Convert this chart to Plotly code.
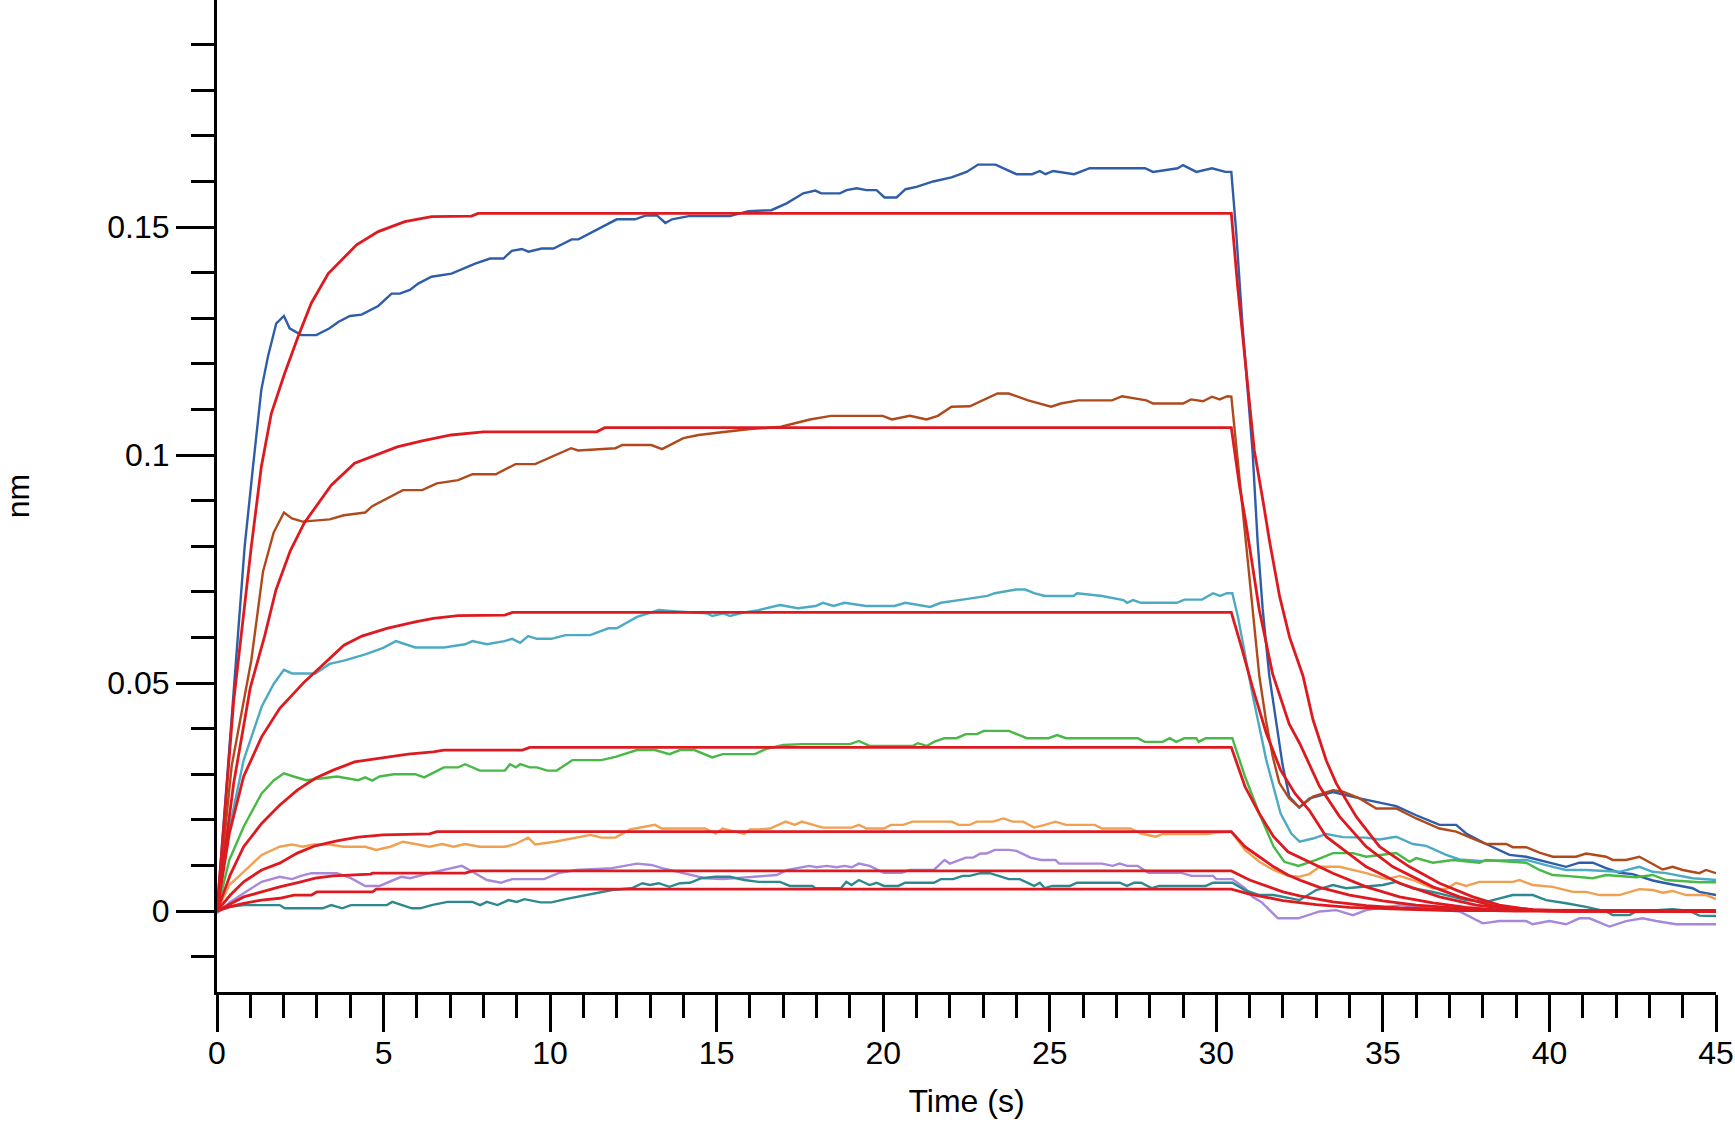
import plotly.graph_objects as go

# ---- measured sensorgrams: (time s, response nm) ----
blue = [(0,0),(0.4,0.038),(0.83,0.0799),(1.08,0.0974),(1.33,0.1143),(1.53,0.1216),(1.78,0.1289),(2.01,0.1305),(2.18,0.1278),(2.53,0.1263),(2.98,0.1263),(3.38,0.1278),(3.64,0.1292),(3.99,0.1305),(4.34,0.1308),(4.84,0.1327),(5.24,0.1354),(5.49,0.1354),(5.79,0.1362),(6.04,0.1376),(6.44,0.1391),(7.04,0.1398),(7.75,0.142),(8.2,0.1431),(8.6,0.1431),(8.85,0.1448),(9.15,0.1452),(9.35,0.1446),(9.75,0.1453),(10.1,0.1453),(10.65,0.1473),(10.85,0.1473),(12.0,0.1517),(12.55,0.1517),(12.86,0.1525),(13.2,0.1526),(13.46,0.1509),(13.66,0.1517),(14.16,0.1524),(14.46,0.1524),(15.4,0.1524),(15.95,0.1535),(16.64,0.1537),(17.1,0.1552),(17.6,0.1574),(17.96,0.158),(18.14,0.1574),(18.7,0.1574),(18.9,0.1581),(19.2,0.1585),(19.5,0.1581),(19.8,0.1581),(20.04,0.1565),(20.4,0.1565),(20.67,0.1583),(21.0,0.1588),(21.5,0.160),(22.05,0.1609),(22.5,0.1621),(22.85,0.1637),(23.37,0.1637),(24.0,0.1616),(24.47,0.1616),(24.7,0.1623),(24.87,0.1616),(25.1,0.1623),(25.73,0.1616),(26.2,0.1629),(27.86,0.1629),(28.1,0.1621),(28.84,0.1629),(29.0,0.1636),(29.4,0.1621),(29.87,0.1629),(30.27,0.1621),(30.45,0.1621),(30.59,0.1495),(30.79,0.128),(30.99,0.110),(31.09,0.1005),(31.24,0.081),(31.39,0.0663),(31.59,0.0516),(31.79,0.0418),(31.99,0.032),(32.19,0.0251),(32.49,0.0227),(32.8,0.0247),(33.5,0.0261),(34.3,0.0247),(34.8,0.024),(35.4,0.023),(36.0,0.021),(36.7,0.0189),(37.2,0.0189),(37.5,0.017),(38.1,0.0147),(38.8,0.0123),(39.3,0.0119),(39.7,0.0112),(40.1,0.0104),(40.5,0.0097),(40.9,0.0106),(41.3,0.0106),(41.7,0.0094),(42.1,0.0084),(42.5,0.0081),(43.1,0.0067),(43.5,0.0061),(44.3,0.005),(44.5,0.0042),(45.0,0.0035)]

brown = [(0,0),(0.44,0.0318),(1.03,0.055),(1.38,0.0744),(1.7,0.083),(2.01,0.0874),(2.25,0.0861),(2.57,0.0854),(3.38,0.0859),(3.81,0.0868),(4.45,0.0874),(4.66,0.0888),(5.58,0.0923),(6.16,0.0923),(6.6,0.0938),(7.24,0.0945),(7.67,0.0958),(8.37,0.0958),(8.96,0.098),(9.55,0.098),(10.63,0.1015),(10.84,0.101),(11.96,0.1015),(12.17,0.1022),(13.04,0.1022),(13.36,0.1013),(14.0,0.1037),(14.46,0.1044),(15.15,0.105),(16.0,0.1057),(16.93,0.1062),(17.4,0.1071),(17.8,0.1078),(18.43,0.1086),(19.98,0.1086),(20.26,0.1078),(20.8,0.1086),(21.3,0.1078),(21.64,0.1086),(22.05,0.1106),(22.6,0.1107),(23.43,0.1135),(23.77,0.1135),(24.35,0.112),(25.04,0.1106),(25.33,0.1113),(25.85,0.112),(26.87,0.112),(27.17,0.1129),(27.9,0.112),(28.1,0.1113),(29.0,0.1113),(29.24,0.1122),(29.6,0.1118),(29.87,0.1128),(30.1,0.1122),(30.33,0.1129),(30.45,0.1128),(30.59,0.1025),(30.74,0.0908),(30.89,0.081),(31.09,0.0663),(31.29,0.0516),(31.49,0.0418),(31.69,0.034),(31.89,0.0281),(32.19,0.0247),(32.49,0.0227),(32.9,0.0251),(33.5,0.0265),(33.8,0.0262),(34.3,0.0247),(34.8,0.0225),(35.4,0.0225),(36.0,0.0203),(36.7,0.0181),(37.2,0.0174),(37.7,0.0159),(38.1,0.0147),(38.7,0.0147),(38.9,0.014),(39.3,0.014),(39.7,0.0128),(40.1,0.0119),(40.8,0.0119),(41.1,0.0126),(41.7,0.0119),(41.9,0.0112),(42.3,0.0112),(42.7,0.0119),(43.4,0.0091),(43.7,0.0097),(44.0,0.009),(44.5,0.0083),(44.7,0.009),(45.0,0.0083)]

cyan = [(0,0),(0.37,0.018),(0.8,0.0331),(1.34,0.0448),(1.71,0.0499),(2.01,0.0529),(2.25,0.0521),(2.95,0.0521),(3.38,0.0542),(3.81,0.0549),(4.45,0.0563),(4.99,0.0577),(5.37,0.0592),(5.95,0.0578),(6.81,0.0578),(7.45,0.0585),(7.67,0.0592),(8.1,0.0585),(8.63,0.0592),(8.86,0.0597),(9.1,0.0588),(9.34,0.0603),(9.6,0.0597),(10.04,0.0597),(10.46,0.0605),(11.2,0.0605),(11.75,0.062),(12.0,0.062),(12.61,0.0645),(13.26,0.066),(13.8,0.0657),(14.7,0.0653),(14.87,0.0647),(15.2,0.0653),(15.4,0.0647),(15.83,0.0655),(16.26,0.066),(16.9,0.0671),(17.44,0.0664),(17.97,0.0669),(18.19,0.0676),(18.51,0.0669),(18.84,0.0676),(19.48,0.0669),(20.34,0.0669),(20.66,0.0676),(21.41,0.0667),(21.73,0.0676),(22.38,0.0683),(23.13,0.0691),(23.35,0.0697),(23.99,0.0705),(24.26,0.0705),(24.53,0.0697),(24.85,0.0691),(25.71,0.0691),(25.82,0.0697),(26.57,0.0691),(27.21,0.0682),(27.32,0.0676),(27.5,0.0682),(27.74,0.0676),(28.82,0.0676),(29.04,0.0683),(29.57,0.0683),(29.9,0.0697),(30.11,0.0691),(30.32,0.0697),(30.48,0.0697),(30.65,0.0645),(31.08,0.0477),(31.5,0.0331),(31.93,0.0214),(32.25,0.017),(32.5,0.0152),(32.9,0.0159),(33.3,0.0169),(33.8,0.0162),(34.5,0.0161),(34.9,0.0157),(35.4,0.0163),(35.9,0.0147),(36.3,0.0143),(36.9,0.0123),(37.3,0.0113),(37.9,0.011),(39.3,0.0112),(39.7,0.0104),(40.1,0.0097),(40.5,0.009),(41.1,0.009),(42.1,0.0086),(42.7,0.0097),(43.1,0.0086),(43.5,0.0083),(44.3,0.0072),(45.0,0.0068)]

green = [(0,0),(0.37,0.0112),(0.8,0.0185),(1.34,0.0258),(1.71,0.0287),(2.01,0.0302),(2.3,0.0295),(2.68,0.0287),(3.6,0.0295),(4.24,0.0287),(4.45,0.0293),(4.66,0.0286),(4.88,0.0295),(5.31,0.03),(5.95,0.03),(6.22,0.0293),(6.81,0.0315),(7.24,0.0315),(7.45,0.0322),(7.89,0.0308),(8.64,0.0308),(8.8,0.0322),(8.97,0.0315),(9.1,0.0322),(9.39,0.0315),(9.6,0.0315),(9.92,0.0308),(10.2,0.0308),(10.67,0.0331),(11.54,0.0331),(11.96,0.0338),(12.61,0.0353),(13.15,0.0353),(13.58,0.0344),(13.9,0.0353),(14.33,0.0353),(14.87,0.0337),(15.18,0.0344),(16.15,0.0344),(16.47,0.0355),(17.0,0.0364),(17.55,0.0366),(19.0,0.0366),(19.27,0.0373),(19.59,0.0362),(20.88,0.0362),(21.04,0.0368),(21.31,0.0362),(21.52,0.0371),(21.84,0.0379),(22.2,0.0379),(22.48,0.0388),(22.81,0.0388),(23.02,0.0395),(23.77,0.0395),(24.31,0.0379),(24.96,0.0379),(25.22,0.0386),(25.49,0.0379),(27.64,0.0379),(27.85,0.0371),(28.39,0.0371),(28.6,0.0379),(28.8,0.0371),(29.04,0.0379),(29.4,0.0379),(29.47,0.0371),(29.68,0.0379),(30.48,0.0379),(30.86,0.0295),(31.29,0.0214),(31.72,0.0141),(32.04,0.0108),(32.47,0.0099),(33.0,0.0112),(33.5,0.0127),(34.1,0.0127),(34.5,0.0119),(35.4,0.0127),(35.8,0.0108),(36.0,0.0116),(36.5,0.0106),(37.1,0.0112),(37.9,0.0106),(38.1,0.0112),(39.3,0.0106),(39.7,0.009),(40.1,0.0079),(40.5,0.0077),(41.3,0.0072),(41.7,0.0079),(42.6,0.0074),(43.1,0.0079),(43.5,0.0068),(44.5,0.0063),(45.0,0.0063)]

orange = [(0,0),(0.37,0.0057),(0.8,0.0086),(1.34,0.0123),(1.88,0.0141),(2.25,0.0146),(2.57,0.0141),(2.9,0.0146),(3.38,0.0146),(3.81,0.0141),(4.45,0.0141),(4.78,0.0134),(5.2,0.0141),(5.58,0.0152),(5.95,0.0147),(6.38,0.0141),(6.76,0.0147),(7.1,0.0141),(7.45,0.0147),(7.89,0.0141),(8.64,0.0141),(8.96,0.0147),(9.34,0.0161),(9.55,0.0146),(10.14,0.0152),(10.79,0.0161),(11.21,0.0167),(11.54,0.0161),(11.96,0.0161),(12.4,0.0179),(13.15,0.0189),(13.35,0.0181),(13.69,0.0181),(14.65,0.0181),(14.97,0.017),(15.18,0.0181),(15.83,0.0169),(16.0,0.0179),(16.26,0.0179),(16.6,0.0181),(17.07,0.0196),(17.35,0.0189),(17.55,0.0196),(18.19,0.0183),(19.05,0.0183),(19.27,0.0189),(19.5,0.0181),(20.02,0.0181),(20.23,0.0189),(20.6,0.0189),(20.88,0.0196),(22.06,0.0196),(22.27,0.0189),(22.6,0.0189),(22.81,0.0196),(23.3,0.0196),(23.61,0.0203),(23.88,0.0196),(24.2,0.0196),(24.53,0.0183),(24.85,0.0189),(25.17,0.0196),(25.49,0.0189),(26.35,0.0189),(26.57,0.0181),(27.42,0.0181),(27.74,0.017),(28.18,0.0163),(28.39,0.0169),(29.73,0.0169),(30.0,0.0172),(30.45,0.0174),(30.86,0.0134),(31.29,0.0108),(31.72,0.009),(32.15,0.0077),(32.47,0.0075),(32.79,0.0081),(33.1,0.0097),(33.7,0.0097),(34.5,0.0083),(35.1,0.007),(35.5,0.0077),(35.9,0.0068),(36.5,0.005),(36.9,0.0048),(37.2,0.0062),(37.5,0.0055),(37.9,0.0064),(38.9,0.0064),(39.1,0.0068),(39.5,0.0057),(40.1,0.0053),(40.7,0.0042),(41.1,0.0042),(41.5,0.0035),(42.1,0.0035),(42.7,0.0048),(43.1,0.0046),(43.4,0.004),(43.7,0.0044),(44.1,0.0035),(44.7,0.0035),(45.0,0.0026)]

purple = [(0,-0.0005),(0.4,0.002),(0.8,0.0039),(1.34,0.0064),(1.88,0.0075),(2.25,0.007),(2.52,0.0077),(2.84,0.0083),(3.6,0.0083),(4.02,0.0072),(4.45,0.0055),(4.88,0.0055),(5.53,0.0075),(5.8,0.0072),(6.38,0.0083),(6.81,0.009),(7.35,0.0099),(7.67,0.0086),(8.1,0.0068),(8.53,0.0062),(8.86,0.007),(9.82,0.007),(10.25,0.0083),(10.79,0.009),(11.86,0.0094),(12.61,0.0104),(13.04,0.0101),(13.36,0.0094),(14.65,0.0072),(15.18,0.007),(16.15,0.0075),(16.8,0.0079),(17.12,0.009),(17.78,0.0099),(18.0,0.0096),(18.3,0.0099),(18.6,0.0096),(18.84,0.0099),(19.05,0.0096),(19.27,0.0104),(19.59,0.0099),(20.02,0.0084),(20.56,0.0084),(20.8,0.009),(21.52,0.009),(21.84,0.0112),(22.0,0.0104),(22.48,0.0117),(22.7,0.0117),(22.92,0.0126),(23.1,0.0126),(23.35,0.0134),(23.77,0.0134),(24.0,0.0132),(24.42,0.0117),(24.74,0.0112),(25.17,0.0112),(25.28,0.0104),(26.57,0.0104),(26.89,0.0099),(27.1,0.0104),(27.32,0.0099),(27.64,0.0099),(27.96,0.0084),(28.93,0.0084),(29.25,0.0077),(29.9,0.0077),(30.0,0.007),(30.48,0.007),(30.86,0.005),(31.08,0.0031),(31.35,0.002),(31.85,-0.0016),(32.46,-0.0016),(33.1,-0.0001),(33.6,0.0002),(34.1,-0.0009),(34.5,0.0002),(35.5,0.0013),(37.3,-0.0001),(38.0,-0.0027),(38.5,-0.0022),(39.3,-0.0022),(39.5,-0.0029),(40.0,-0.0022),(40.5,-0.0029),(40.9,-0.0016),(41.2,-0.0016),(41.8,-0.0034),(42.3,-0.0022),(42.8,-0.0016),(43.2,-0.0022),(43.8,-0.0029),(45.0,-0.0029)]

teal = [(0,0),(0.37,0.0009),(0.8,0.0013),(1.88,0.0013),(2.04,0.0006),(3.17,0.0006),(3.43,0.0013),(3.76,0.0006),(4.02,0.0013),(5.1,0.0013),(5.26,0.002),(5.85,0.0006),(6.1,0.0006),(6.44,0.0013),(6.92,0.002),(7.67,0.002),(7.9,0.0013),(8.1,0.002),(8.42,0.0013),(8.75,0.0024),(9.0,0.002),(9.23,0.0026),(9.71,0.0019),(10.04,0.0019),(10.46,0.0026),(11.11,0.0035),(11.54,0.0042),(11.86,0.0046),(12.45,0.005),(12.77,0.0061),(13.0,0.0057),(13.26,0.0061),(13.58,0.0053),(13.9,0.0061),(14.2,0.0062),(14.54,0.0072),(14.97,0.0075),(15.4,0.0075),(15.83,0.0068),(16.26,0.0064),(16.9,0.0064),(17.2,0.0055),(17.87,0.0055),(17.97,0.005),(18.73,0.005),(18.89,0.0064),(19.05,0.0057),(19.27,0.0068),(19.59,0.0057),(19.8,0.0062),(20.02,0.0055),(20.45,0.0055),(20.66,0.0062),(21.52,0.0062),(21.73,0.007),(22.1,0.007),(22.38,0.0077),(22.6,0.0077),(22.92,0.0083),(23.2,0.0083),(23.56,0.0075),(23.77,0.007),(24.1,0.007),(24.53,0.0055),(24.7,0.0062),(24.85,0.005),(25.07,0.0055),(25.6,0.0055),(25.82,0.0062),(27.1,0.0062),(27.32,0.0055),(27.53,0.0062),(27.74,0.0062),(28.07,0.005),(28.28,0.0055),(29.68,0.0055),(29.9,0.0062),(30.48,0.0062),(30.86,0.0046),(31.29,0.0035),(31.72,0.0035),(32.15,0.0028),(32.5,0.0024),(33.0,0.0046),(33.5,0.0057),(33.9,0.005),(35.0,0.0057),(35.4,0.0064),(35.9,0.005),(36.5,0.0042),(37.5,0.0024),(38.1,0.002),(38.9,0.0035),(39.5,0.0035),(39.9,0.0024),(40.5,0.0017),(41.1,0.0009),(41.7,-0.0001),(41.9,-0.0009),(42.4,-0.0009),(42.6,-0.0001),(43.7,0.0004),(44.2,0.0),(44.5,-0.001),(45.0,-0.0011)]

# ---- fitted curves (red) ----
blue_fit = [(0,0),(0.5,0.046),(1.03,0.0799),(1.33,0.0974),(1.63,0.1091),(2.03,0.1179),(2.43,0.1259),(2.83,0.1333),(3.34,0.1398),(3.84,0.1435),(4.19,0.1461),(4.84,0.149),(5.64,0.1512),(6.44,0.1523),(7.64,0.1524),(7.84,0.153),(30.45,0.153),(30.64,0.137),(30.89,0.119),(31.14,0.101),(31.4,0.090),(31.6,0.081),(31.9,0.069),(32.2,0.060),(32.6,0.0516),(32.9,0.042),(33.3,0.033),(33.6,0.028),(34.2,0.0207),(34.9,0.0141),(35.8,0.0097),(36.7,0.0061),(37.7,0.0031),(38.5,0.0013),(39.5,0.0002),(40.5,0),(45,0)]
brown_fit = [(0,0),(0.5,0.028),(1.0,0.049),(1.43,0.0603),(1.77,0.0704),(2.2,0.079),(2.62,0.0851),(3.0,0.089),(3.43,0.0934),(4.13,0.0982),(4.78,0.100),(5.41,0.1018),(6.16,0.1031),(7.03,0.1044),(8.0,0.1051),(11.4,0.1051),(11.64,0.106),(30.45,0.106),(30.7,0.093),(30.89,0.085),(31.29,0.066),(31.69,0.052),(32.19,0.041),(32.5,0.0368),(33.1,0.0273),(33.7,0.0207),(34.5,0.0141),(35.3,0.0097),(36.5,0.0053),(37.3,0.0031),(38.3,0.0012),(39.5,0.0003),(40.5,0),(45,0)]
cyan_fit = [(0,0),(0.37,0.017),(0.8,0.0295),(1.34,0.0382),(1.88,0.0444),(2.25,0.0474),(2.63,0.0503),(3.06,0.0532),(3.43,0.0558),(3.81,0.0583),(4.35,0.0603),(5.1,0.062),(5.95,0.0634),(6.5,0.0642),(7.24,0.0648),(8.64,0.0649),(8.87,0.0655),(30.45,0.0655),(30.75,0.058),(31.08,0.0492),(31.5,0.039),(31.93,0.0309),(32.36,0.0258),(32.79,0.0221),(33.3,0.0163),(34.5,0.0097),(35.5,0.0061),(36.7,0.0031),(37.8,0.0013),(39.0,0.0003),(40.0,0),(45,0)]
green_fit = [(0,0),(0.4,0.008),(0.8,0.0141),(1.34,0.0192),(1.88,0.0232),(2.41,0.0265),(2.95,0.0291),(3.49,0.0309),(4.13,0.0327),(4.67,0.0333),(5.2,0.0338),(5.74,0.0344),(6.49,0.0349),(6.81,0.0353),(9.17,0.0353),(9.39,0.0359),(30.45,0.0359),(30.86,0.0273),(31.29,0.0214),(31.72,0.0163),(32.15,0.013),(32.5,0.0118),(33.5,0.0083),(34.5,0.0053),(35.5,0.0031),(36.5,0.0018),(37.5,0.0008),(38.5,0.0002),(45,0)]
orange_fit = [(0,0),(0.4,0.0035),(0.8,0.0064),(1.34,0.009),(1.88,0.0105),(2.41,0.0127),(2.95,0.0143),(3.6,0.0154),(4.24,0.0162),(4.99,0.0167),(6.38,0.0169),(6.6,0.0174),(30.45,0.0174),(30.86,0.0141),(31.29,0.0119),(31.72,0.0097),(32.15,0.0079),(32.57,0.0066),(33.1,0.0052),(34.0,0.0035),(35.0,0.0022),(36.0,0.0013),(37.5,0.0005),(39.0,0.0001),(45,0)]
purple_fit = [(0,0),(0.8,0.0031),(1.34,0.0042),(1.88,0.0053),(2.52,0.0064),(2.95,0.0072),(3.49,0.0077),(4.61,0.0081),(4.67,0.0083),(7.45,0.0083),(7.67,0.0088),(30.45,0.0088),(31.0,0.0068),(31.5,0.0055),(32.0,0.0042),(32.5,0.0033),(33.5,0.002),(34.5,0.0012),(35.5,0.0007),(37.0,0.0003),(39.0,0),(45,0)]
teal_fit = [(0,0),(0.37,0.0009),(0.8,0.0017),(1.34,0.0024),(1.88,0.0028),(2.31,0.0035),(2.84,0.0035),(3.0,0.0042),(4.67,0.0042),(4.78,0.0048),(30.45,0.0048),(31.0,0.0037),(31.5,0.003),(32.0,0.0023),(33.0,0.0014),(34.0,0.0008),(35.5,0.0004),(37.0,0.0001),(45,0)]

x_ticks = [0, 5, 10, 15, 20, 25, 30, 35, 40, 45]
y_ticks = [0, 0.05, 0.1, 0.15]
y_tick_text = ["0", "0.05", "0.1", "0.15"]

measured = [
    (blue, "#2F5DA8"),
    (brown, "#B04A1C"),
    (cyan, "#4CAAC2"),
    (green, "#48B847"),
    (orange, "#F0A050"),
    (purple, "#A888DA"),
    (teal, "#2E8890"),
]
fits = [blue_fit, brown_fit, cyan_fit, green_fit, orange_fit, purple_fit, teal_fit]
RED = "#DD1A20"

fig = go.Figure()
for series, color in measured:
    t, v = zip(*series)
    fig.add_trace(go.Scatter(x=list(t), y=list(v), mode="lines",
                             line=dict(color=color, width=2.4), showlegend=False))
for series in fits:
    t, v = zip(*series)
    fig.add_trace(go.Scatter(x=list(t), y=list(v), mode="lines",
                             line=dict(color=RED, width=2.8), showlegend=False))

font_family = "Liberation Sans, Arial, sans-serif"
fig.update_layout(
    width=1735, height=1126,
    margin=dict(l=217, r=19, t=0, b=134, autoexpand=False),
    paper_bgcolor="white", plot_bgcolor="white",
    font=dict(family=font_family, size=32, color="black"),
    showlegend=False,
    xaxis=dict(
        range=[0, 45], showgrid=False, zeroline=False,
        showline=True, linecolor="black", linewidth=3,
        ticks="outside", ticklen=37, tickwidth=2.5, tickcolor="black",
        tickmode="array", tickvals=x_ticks, ticktext=[str(v) for v in x_ticks],
        ticklabelstandoff=-6,
        minor=dict(ticks="outside", ticklen=23, tickwidth=2.5, tickcolor="black",
                   tickmode="linear", tick0=0, dtick=1, showgrid=False),
        tickfont=dict(size=32, family=font_family),
        title=dict(text="Time (s)", font=dict(size=32, family=font_family), standoff=20),
        automargin=False,
    ),
    yaxis=dict(
        range=[-0.01776, 0.1998], showgrid=False, zeroline=False,
        showline=True, linecolor="black", linewidth=3,
        ticks="outside", ticklen=38, tickwidth=2.5, tickcolor="black",
        tickmode="array", tickvals=y_ticks, ticktext=y_tick_text,
        minor=dict(ticks="outside", ticklen=23, tickwidth=2.5, tickcolor="black",
                   tickmode="linear", tick0=0, dtick=0.01, showgrid=False),
        tickfont=dict(size=32, family=font_family),
        title=dict(text="nm", font=dict(size=32, family=font_family), standoff=70),
        automargin=False,
    ),
)

fig.write_html("out.html")
